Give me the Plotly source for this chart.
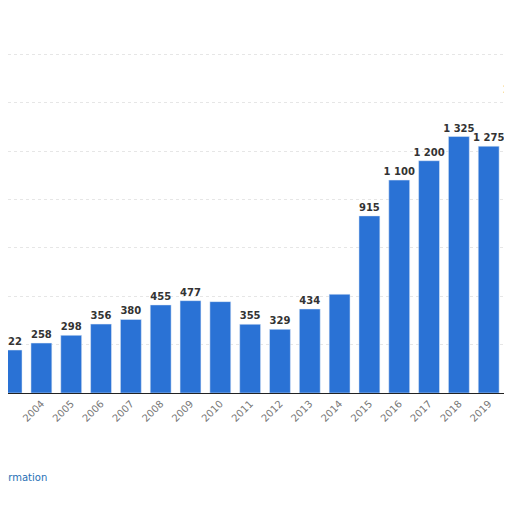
import plotly.graph_objects as go

years = [str(y) for y in range(2003, 2021)]
values = [222, 258, 298, 356, 380, 455, 477, 472, 355, 329, 434, 510, 915, 1100, 1200, 1325, 1275, 1525]
labels = ["222", "258", "298", "356", "380", "455", "477", "", "355", "329", "434", "", "915",
          "1 100", "1 200", "1 325", "1 275", "1 525"]

fig = go.Figure()
fig.add_trace(go.Bar(
    x=list(range(len(years))), y=values, width=0.7,
    marker=dict(color="#2a72d5"),
    text=labels, textposition="outside", cliponaxis=False,
    textangle=0, constraintext="none",
    textfont=dict(family="DejaVu Sans", size=10, color="#333333", weight="bold"),
))

fig.add_annotation(text="Additional Information", xref="paper", yref="paper",
                   x=41 / 512, y=-0.22, xanchor="right", yanchor="middle", showarrow=False,
                   font=dict(family="DejaVu Sans", size=10, color="#1f6fb5"))
fig.add_annotation(text="©", xref="paper", yref="paper", x=503 / 512, y=-0.16,
                   xanchor="left", showarrow=False,
                   font=dict(family="DejaVu Sans", size=10, color="#1f6fb5"))

fig.update_layout(
    width=512, height=512, margin=dict(l=0, r=0, t=0, b=127),
    plot_bgcolor="white", paper_bgcolor="white", showlegend=False,
    xaxis=dict(range=[-0.12, 17.05], tickmode="array", tickvals=list(range(len(years))),
               ticktext=years, tickangle=-45, showline=True, linecolor="#222222",
               tickfont=dict(family="DejaVu Sans", size=10, color="#777777")),
    yaxis=dict(range=[0, 1989], dtick=250, showticklabels=False, zeroline=False,
               gridcolor="#e6e6e6", griddash="dot"),
)

fig.write_html("out.html")
